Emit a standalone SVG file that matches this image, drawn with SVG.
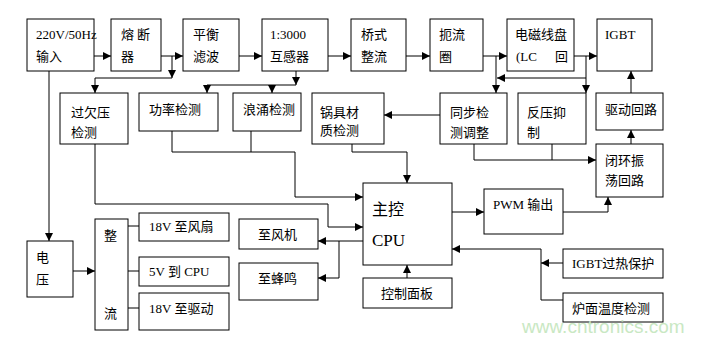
<svg xmlns="http://www.w3.org/2000/svg" width="705" height="341" viewBox="0 0 705 341">
<style>
.b{fill:#fff;stroke:#000;stroke-width:1}
.t{font-family:"Liberation Serif","Noto Sans CJK SC",serif;font-size:13px;fill:#000}
.c{font-family:"Noto Sans CJK SC","Liberation Sans",sans-serif;font-size:13px;fill:#000}
.l{fill:none;stroke:#000;stroke-width:1}
.a{marker-end:url(#ah)}
</style>
<defs>
<marker id="ah" markerUnits="userSpaceOnUse" markerWidth="8" markerHeight="8" refX="8" refY="4" orient="auto">
<path d="M0,0 L8,4 L0,8 z" fill="#000"/>
</marker>
</defs>
<rect width="705" height="341" fill="#fff"/>
<g id="connectors">
<path class="l a" d="M94,56 H111"/>
<path class="l a" d="M161,56 H183"/>
<path class="l a" d="M172,56 V78"/>
<path class="l a" d="M172,78 H95 V93"/>
<path class="l a" d="M239,56 H262"/>
<path class="l a" d="M296,71 V85"/>
<path class="l a" d="M296,85 H207 V93"/>
<path class="l a" d="M272,85 V93"/>
<path class="l a" d="M328,56 H351"/>
<path class="l a" d="M406,56 H430"/>
<path class="l a" d="M483,56 H507"/>
<path class="l a" d="M496,56 V93"/>
<path class="l a" d="M574,56 H597"/>
<path class="l a" d="M586,56 V93"/>
<path class="l a" d="M586,78 H497"/>
<path class="l a" d="M631,93 V71"/>
<path class="l a" d="M631,144 V130"/>
<path class="l a" d="M474,144 V160 H596"/>
<path class="l" d="M552,144 V160"/>
<path class="l a" d="M440,115 H384"/>
<path class="l a" d="M172,131 V152 H295 V197 H363"/>
<path class="l" d="M251,131 V152"/>
<path class="l a" d="M95,144 V204 H328 V227 H363"/>
<path class="l a" d="M352,144 V152 H407 V183"/>
<path class="l a" d="M363,241 H318"/>
<path class="l a" d="M339,241 V278 H318"/>
<path class="l a" d="M407,278 V265"/>
<path class="l a" d="M452,212 H484"/>
<path class="l a" d="M563,212 H608 V197"/>
<path class="l a" d="M541,249 H452"/>
<path class="l a" d="M563,263 H541"/>
<path class="l" d="M541,249 V300 H563"/>
<path class="l a" d="M49,71 V241"/>
<path class="l a" d="M73,271 H95"/>
<path class="l" d="M128,226 H139 M128,271 H139 M128,308 H139"/>
</g>
<g id="n_input"><rect class="b" x="27" y="19" width="67" height="52"/><text class="t" x="36" y="38.5">220V/50Hz</text><text class="c" x="36" y="60.5">输入</text></g>
<g id="n_fuse"><rect class="b" x="111" y="19" width="50" height="52"/><text class="c" x="121" y="38.5">熔 断</text><text class="c" x="121" y="60.5">器</text></g>
<g id="n_filter"><rect class="b" x="183" y="19" width="56" height="52"/><text class="c" x="193" y="38.5">平衡</text><text class="c" x="193" y="60.5">滤波</text></g>
<g id="n_ct"><rect class="b" x="262" y="19" width="66" height="52"/><text class="t" x="270" y="38.5">1:3000</text><text class="c" x="270" y="60.5">互感器</text></g>
<g id="n_bridge"><rect class="b" x="351" y="19" width="55" height="52"/><text class="c" x="361" y="38.5">桥式</text><text class="c" x="361" y="60.5">整流</text></g>
<g id="n_choke"><rect class="b" x="430" y="19" width="53" height="52"/><text class="c" x="439" y="38.5">扼流</text><text class="c" x="439" y="60.5">圈</text></g>
<g id="n_coil"><rect class="b" x="507" y="19" width="67" height="52"/><text class="c" x="515" y="38.5">电磁线盘</text><text class="t" x="516" y="60.5">(LC</text><text class="c" x="555" y="60.5">回</text></g>
<g id="n_igbt"><rect class="b" x="597" y="19" width="55" height="52"/><text class="t" x="605" y="38.5">IGBT</text></g>
<g id="n_ovp"><rect class="b" x="60" y="93" width="68" height="51"/><text class="c" x="71" y="116.5">过欠压</text><text class="c" x="71" y="136.5">检测</text></g>
<g id="n_power"><rect class="b" x="139" y="93" width="79" height="38"/><text class="c" x="149" y="113.5">功率检测</text></g>
<g id="n_surge"><rect class="b" x="233" y="93" width="68" height="38"/><text class="c" x="243" y="113.5">浪涌检测</text></g>
<g id="n_pot"><rect class="b" x="312" y="93" width="72" height="51"/><text class="c" x="320" y="116.5">锅具材</text><text class="c" x="320" y="134.5">质检测</text></g>
<g id="n_sync"><rect class="b" x="440" y="93" width="67" height="51"/><text class="c" x="450" y="116.5">同步检</text><text class="c" x="450" y="136.5">测调整</text></g>
<g id="n_back"><rect class="b" x="518" y="93" width="68" height="51"/><text class="c" x="527" y="116.5">反压抑</text><text class="c" x="527" y="136.5">制</text></g>
<g id="n_drive"><rect class="b" x="596" y="93" width="67" height="37"/><text class="c" x="605" y="113.5">驱动回路</text></g>
<g id="n_osc"><rect class="b" x="596" y="144" width="67" height="53"/><text class="c" x="605" y="164.5">闭环振</text><text class="c" x="605" y="184.5">荡回路</text></g>
<g id="n_cpu"><rect class="b" x="363" y="183" width="89" height="82"/><text class="c" x="372" y="215" style="font-size:16px">主控</text><text class="t" x="372" y="245.5" style="font-size:17px">CPU</text></g>
<g id="n_pwm"><rect class="b" x="484" y="189" width="79" height="45"/><text class="t" x="493" y="208.5">PWM 输出</text></g>
<g id="n_fan"><rect class="b" x="239" y="219" width="79" height="30"/><text class="c" x="258" y="239">至风机</text></g>
<g id="n_buzz"><rect class="b" x="239" y="263" width="79" height="37"/><text class="c" x="258" y="283">至蜂鸣</text></g>
<g id="n_panel"><rect class="b" x="363" y="278" width="89" height="30"/><text class="c" x="381" y="297.5">控制面板</text></g>
<g id="n_igbtot"><rect class="b" x="563" y="249" width="100" height="29"/><text class="t" x="572" y="268">IGBT过热保护</text></g>
<g id="n_temp"><rect class="b" x="563" y="293" width="100" height="29"/><text class="c" x="572" y="312.5">炉面温度检测</text></g>
<g id="n_volt"><rect class="b" x="27" y="241" width="46" height="56"/><text class="c" x="36" y="261.5">电</text><text class="c" x="36" y="283.5">压</text></g>
<g id="n_rect"><rect class="b" x="95" y="219" width="33" height="111"/><text class="c" x="104" y="239.5">整</text><text class="c" x="104" y="317.5">流</text></g>
<g id="n_18fan"><rect class="b" x="139" y="213" width="90" height="28"/><text class="t" x="149" y="231">18V 至风扇</text></g>
<g id="n_5v"><rect class="b" x="139" y="257" width="90" height="29"/><text class="t" x="149" y="275.5">5V 到 CPU</text></g>
<g id="n_18drv"><rect class="b" x="139" y="293" width="90" height="37"/><text class="t" x="149" y="312.5">18V 至驱动</text></g>
<text x="522" y="333" style="font-family:'Liberation Sans',sans-serif;font-size:19px;fill:#c9e8c3">www.cntronics.com</text>
</svg>
